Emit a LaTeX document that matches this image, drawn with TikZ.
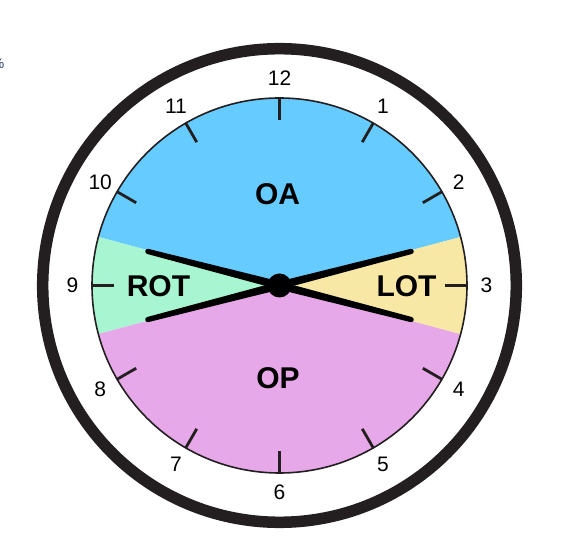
\documentclass[tikz,border=0pt]{standalone}
\usepackage{fontspec}
\setmainfont{Liberation Sans}
\definecolor{oablue}{RGB}{102,204,255}
\definecolor{rotgreen}{RGB}{168,245,210}
\definecolor{lotyellow}{RGB}{248,232,165}
\definecolor{oppink}{RGB}{230,168,232}
\definecolor{ringc}{RGB}{35,31,32}
\definecolor{fragc}{RGB}{40,60,110}
\tikzset{
  tickline/.style={ringc, line width=2.8pt},
  hournum/.style={font=\fontsize{21}{21}\selectfont, inner sep=0pt},
  zonelabel/.style={font=\fontsize{30}{30}\selectfont\bfseries, inner sep=0pt},
  handfill/.style={fill=black},
}
\begin{document}
\begin{tikzpicture}[x=1pt,y=1pt]
\useasboundingbox (0,0) rectangle (562,538);
\coordinate (c) at (279.5,252.5);
% sectors
\fill[oablue] (c) -- ++(15:187.5) arc[start angle=15,end angle=165,radius=187.5] -- cycle;
\fill[rotgreen] (c) -- ++(165:187.5) arc[start angle=165,end angle=195,radius=187.5] -- cycle;
\fill[oppink] (c) -- ++(195:187.5) arc[start angle=195,end angle=345,radius=187.5] -- cycle;
\fill[lotyellow] (c) -- ++(-15:187.5) arc[start angle=-15,end angle=15,radius=187.5] -- cycle;
% face border
\draw[ringc, line width=1.6pt] (c) circle[radius=187.5];
% outer ring
\draw[ringc, line width=11.5pt] (c) circle[radius=236.8];
% ticks and numbers
\foreach \h in {1,...,12}{
  \pgfmathsetmacro{\a}{90-30*\h}
  \draw[tickline, shift={(c)}] (\a:188) -- (\a:165.5);
  \node[hournum] (n\h) at ([shift={(\a:207)}]c) {\h};
}
% hands
\foreach \a in {14.5,-14.5,165.5,194.5}{
  \begin{scope}[shift={(c)}, rotate=\a]
    \fill[handfill] (0,-4) -- (136,-2.6) arc[start angle=-90,end angle=90,radius=2.6] -- (0,4) -- cycle;
  \end{scope}
}
\fill[black] (c) circle[radius=12];
\node[inner sep=0pt, minimum size=24pt] (hub) at (c) {};
% labels
\node[zonelabel] (oa) at (277.5,344) {OA};
\node[zonelabel] (rot) at (158.5,251.5) {ROT};
\node[zonelabel] (lot) at (406.5,251.5) {LOT};
\node[zonelabel] (op) at (278,160) {OP};
% clipped fragment at left edge
\node[anchor=east, inner sep=0pt, text=fragc, font=\fontsize{14}{14}\selectfont] (frag) at (4.5,474) {\%};
\end{tikzpicture}
\end{document}
